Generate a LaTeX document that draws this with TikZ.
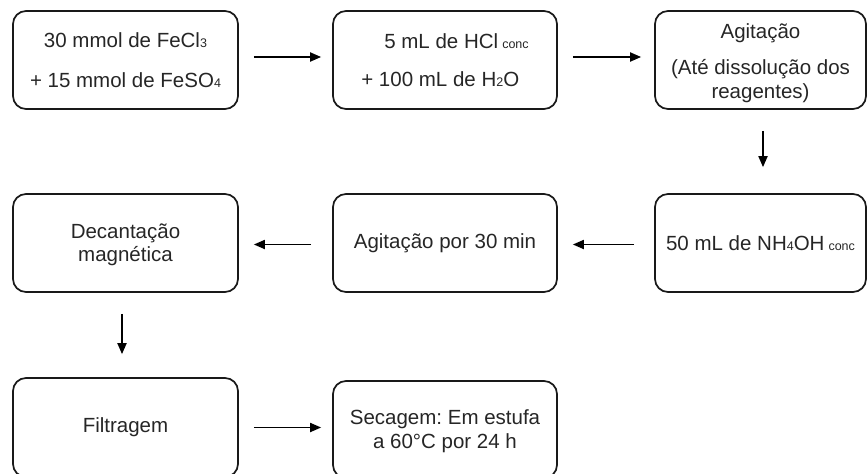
\documentclass[tikz,border=0pt]{standalone}
\usepackage{fontspec}
\setmainfont{Liberation Sans}
\usetikzlibrary{arrows.meta}
\frenchspacing
\newcommand{\ind}[1]{\raisebox{-0.5pt}{\fontsize{12.5}{12.5}\selectfont #1}}
\newcommand{\conc}{\kern4pt\ind{conc}}
\definecolor{texto}{HTML}{262626}
\tikzset{etapa/.style={draw=black!90, rounded corners=13pt, line width=1.7pt, align=center, inner sep=2pt, text=texto},
  seta/.style={->, line width=1.8pt}, >={Triangle[length=11pt,width=9pt]}}

\begin{document}
\begin{tikzpicture}[x=1pt, y=-1pt, font=\fontsize{20.5}{24}\selectfont]
\useasboundingbox (0,0) rectangle (868,474);
% primeira linha
\node [etapa, minimum width=225pt, minimum height=98pt] (sais) at (125.5,60) {30 mmol de FeCl\ind{3}\\[16pt]+ 15 mmol de FeSO\ind{4}};
\node [etapa, minimum width=224pt, minimum height=98pt, align=left] (acido) at (445,60) {\hspace*{23pt}5 mL de HCl\conc\\[14pt]+ 100 mL de H\ind{2}O};
\node [etapa, minimum width=211pt, minimum height=98pt] (agit1) at (760.5,60) {\rule{0pt}{22pt}Agitação\\[12pt](Até dissolução dos\\reagentes)};
% segunda linha
\node [etapa, minimum width=211pt, minimum height=98pt] (base) at (760.5,243) {50 mL de NH\ind{4}OH\conc};
\node [etapa, minimum width=224pt, minimum height=98pt] (agit2) at (445,243) {Agitação por 30 min};
\node [etapa, minimum width=225pt, minimum height=98pt] (decant) at (125.5,243) {\rule{0pt}{19pt}Decantação\\[-1pt]magnética};
% terceira linha
\node [etapa, minimum width=225pt, minimum height=99pt] (filtr) at (125.5,427.5) {Filtragem};
\node [etapa, minimum width=224pt, minimum height=97pt] (secag) at (445,429.5) {\rule{0pt}{19pt}Secagem: Em estufa\\a 60°C por 24 h};

\draw [seta, shorten <=15pt, shorten >=11pt] ([yshift=3pt]sais.east) -- ([yshift=3pt]acido.west);
\draw [seta, shorten <=15pt, shorten >=13pt] ([yshift=3pt]acido.east) -- ([yshift=3pt]agit1.west);
\draw [seta, shorten <=21pt, shorten >=26pt] ([xshift=2.5pt]agit1.south) -- ([xshift=2.5pt]base.north);
\draw [seta, shorten <=20pt, shorten >=15pt] ([yshift=-1.5pt]base.west) -- ([yshift=-1.5pt]agit2.east);
\draw [seta, shorten <=21pt, shorten >=15pt] ([yshift=-1.5pt]agit2.west) -- ([yshift=-1.5pt]decant.east);
\draw [seta, shorten <=21pt, shorten >=23pt] ([xshift=-3.5pt]decant.south) -- ([xshift=-3.5pt]filtr.north);
\draw [seta, shorten <=15pt, shorten >=11pt] (filtr.east) -- (secag.west |- filtr.east);
\end{tikzpicture}
\end{document}
